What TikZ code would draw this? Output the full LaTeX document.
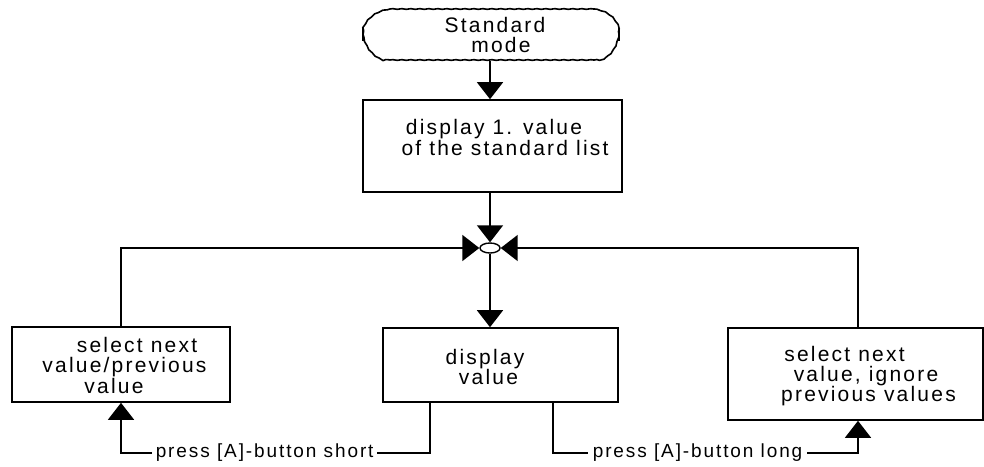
\documentclass[tikz,border=0pt]{standalone}
\usepackage{fontspec}
\setmainfont{Liberation Sans}
\newfontfamily\boxfont{Liberation Sans}[LetterSpace=10.5]
\newfontfamily\labfont{Liberation Sans}[LetterSpace=10]
\usetikzlibrary{arrows.meta,calc,shapes.geometric,decorations.pathmorphing}
\begin{document}
\begin{tikzpicture}[x=1pt,y=-1pt,
  line width=1.6pt,
  box/.style={draw,inner sep=0pt,line width=1.6pt},
  txt/.style={inner sep=0pt,anchor=base,font=\boxfont\fontsize{21}{20}\selectfont},
  lab/.style={inner ysep=0pt,anchor=west,font=\labfont\fontsize{19}{19}\selectfont},
  arr/.style={-{Triangle[width=26pt,length=17pt]}},
  wavy/.style={decorate,decoration={snake,amplitude=0.35pt,segment length=9pt}}
]
\useasboundingbox (0,0) rectangle (984,466);
% terminal
\node[minimum width=256pt,minimum height=51pt,inner sep=0pt] (term) at (491,34.5) {};
\draw[wavy] (390,9) -- (594,9);
\draw[wavy] (390,60) -- (594,60);
\draw[wavy] (390,9) .. controls (372,12) and (365,25) .. (363,34.5);
\draw[wavy] (363,34.5) .. controls (365,44) and (372,57) .. (390,60);
\draw[wavy] (594,9) .. controls (612,12) and (617,25) .. (619,34.5);
\draw[wavy] (619,34.5) .. controls (617,44) and (612,57) .. (594,60);
\draw[line width=2.2pt] (363,28) -- (363,41);
\draw[line width=2.2pt] (619,28) -- (619,41);
\node[txt] (t1) at (495,32.5) {Standard};
\node[txt] (t2) at (501,52.5) {mode};
% boxes
\node[box,minimum width=259pt,minimum height=92pt] (b1) at (492.5,146) {};
\node[txt] (b1a) at (494,134.5) {display 1. value};
\node[txt] (b1b) at (505,155.5) {of the standard list};
\node[draw,ellipse,minimum width=20pt,minimum height=10pt,inner sep=0pt,line width=1.4pt] (j) at (490,248) {};
\node[box,minimum width=218pt,minimum height=75pt] (lb) at (121,364.5) {};
\node[txt] (lba) at (137,352.5) {select next};
\node[txt] (lbb) at (124.5,372.5) {value/previous};
\node[txt] (lbc) at (114,393) {value};
\node[box,minimum width=235pt,minimum height=74pt] (dv) at (500.5,365) {};
\node[txt] (dva) at (485,364) {display};
\node[txt] (dvb) at (488.5,384) {value};
\node[box,minimum width=255pt,minimum height=92pt] (rb) at (855.5,374) {};
\node[txt] (rba) at (844.5,361.5) {select next};
\node[txt] (rbb) at (866,381.5) {value, ignore};
\node[txt] (rbc) at (868.5,401.5) {previous values};
% helper x positions
\coordinate (rx) at (858,0);
\coordinate (cL) at (430,0);
\coordinate (cR) at (553,0);
% connectors
\draw[arr] (term.south -| j) -- (b1.north -| j);
\draw[arr] (b1.south -| j) -- (j.north);
\draw[arr] (lb.north) |- (j.west);
\draw[arr] (rb.north -| rx) |- (j.east);
\draw[arr] (j.south) -- (j |- dv.north);
% bottom labels
\node[lab,inner xsep=3pt] (l1) at (152,453) {press [A]-button short\hspace{2pt}};
\node[lab,inner xsep=4pt] (l2) at (588,453) {press [A]-button long\hspace{16pt}};
\draw (dv.south -| cL) |- (l1.east);
\draw[arr] (l1.west) -| (lb.south);
\draw (dv.south -| cR) |- (l2.west);
\draw[arr] (l2.east) -| (rb.south -| rx);
\end{tikzpicture}
\end{document}
